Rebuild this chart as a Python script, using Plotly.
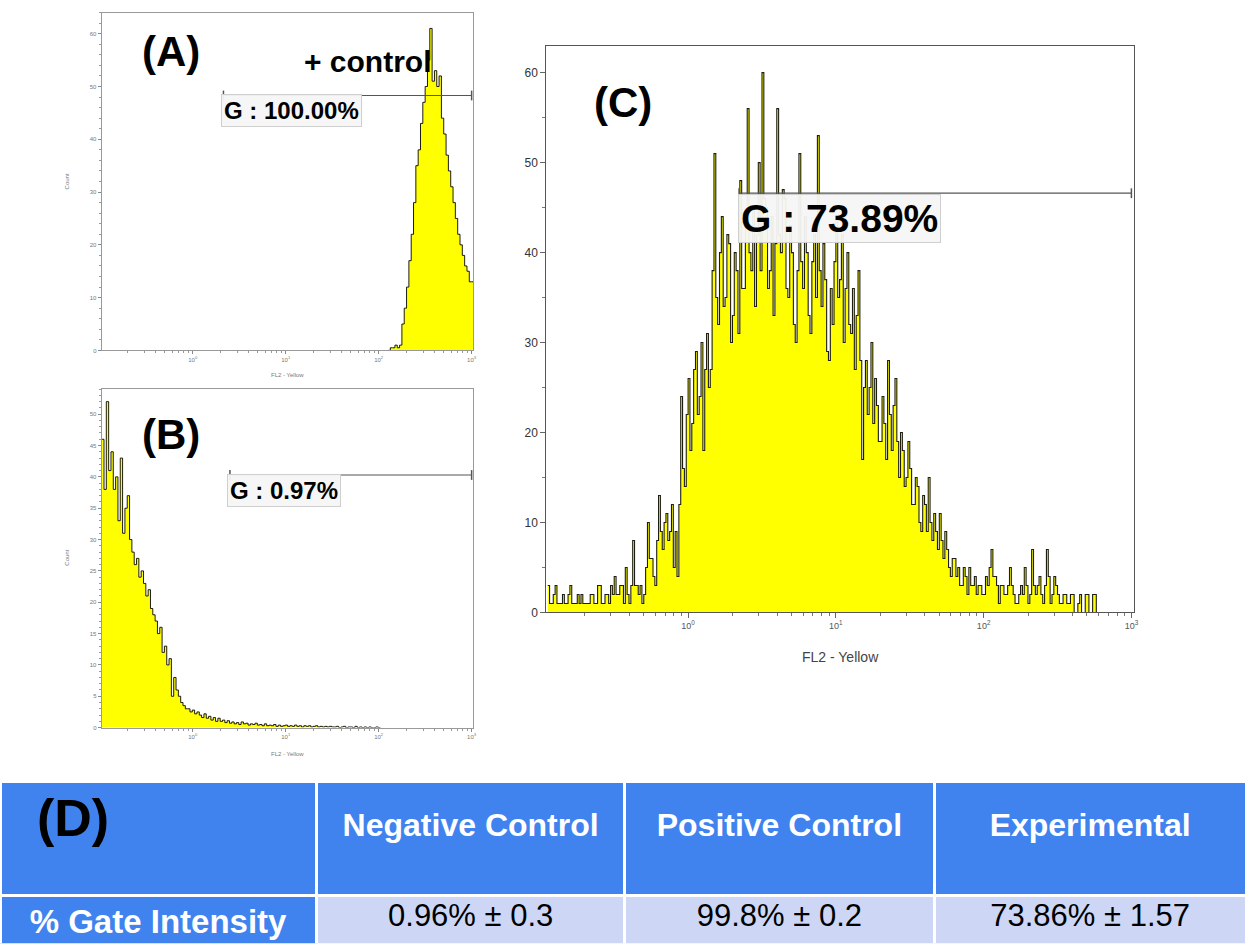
import numpy as np
import plotly.graph_objects as go

W, H = 1250, 951

# ---------------- data ----------------
# Panel A (+ control): bins in log10(FL2) starting at A_START, width A_STEP
A_START, A_STEP = 2.10, 0.025
A_COUNTS = [0, 0.5, 0.5, 1, 0.5, 1, 5, 8, 12, 17, 22, 28, 35, 38, 43, 47, 50, 55, 61,
            51, 53, 50, 52, 44, 41, 37, 34, 31, 28, 25, 22, 20, 18, 16, 15, 13, 13]

# Panel B (negative control)
B_START, B_STEP = -0.98, 0.025
B_COUNTS = [46, 38, 52, 41, 44, 38, 40, 33, 43, 31, 35, 37, 30, 28, 26, 27, 24, 25, 23, 21,
            22, 19, 18, 17, 15, 16, 12, 13, 10, 11, 5, 8, 6, 5, 4, 3.5, 3, 3, 2.5, 2.8,
            2.2, 2.5, 2, 1.6, 2.2, 1.5, 1.8, 1.2, 1.6, 1.0, 1.5, 1.0, 1.2, 0.8, 1.1, 0.7, 0.9, 0.6, 0.8, 0.5,
            0.9, 0.6, 0.7, 0.4, 0.6, 0.5, 0.7, 0.4, 0.5, 0.3, 0.6, 0.3, 0.4, 0.3, 0.5, 0.2, 0.4, 0.2, 0.3, 0.4,
            0.2, 0.3, 0.2, 0.4, 0.2, 0.3, 0.1, 0.3, 0.2, 0.3, 0.1, 0.2, 0.3, 0.1, 0.2, 0.1, 0.2, 0.1, 0.2, 0.1,
            0.1, 0.2, 0.0, 0.1, 0.2, 0.0, 0.1, 0.1, 0.0, 0.2, 0.0, 0.1, 0.0, 0.1, 0.0, 0.1, 0.0, 0.0, 0.1, 0.0]

# Panel C (experimental), finer bins
C_START, C_STEP = -0.95, 0.0125
C_COUNTS = [
    3, 1, 1, 2, 3, 1, 1, 1, 2, 1, 1, 2, 3, 1, 1, 1, 2, 1, 2, 1,
    1, 1, 1, 2, 2, 1, 1, 3, 3, 1, 1, 2, 2, 1, 3, 2, 4, 2, 2, 3,
    3, 1, 5, 2, 1, 3, 8, 3, 3, 2, 3, 1, 2, 5, 10, 6, 6, 4, 3, 8,
    13, 9, 7, 10, 11, 8, 9, 12, 5, 9, 4, 12, 24, 16, 14, 22, 26, 18, 21, 27,
    29, 22, 24, 30, 18, 27, 31, 25, 27, 38, 51, 35, 32, 40, 44, 34, 35, 42, 41, 30,
    33, 40, 38, 31, 48, 36, 36, 43, 56, 40, 38, 45, 34, 42, 50, 38, 60, 46, 45, 36,
    38, 44, 33, 41, 56, 42, 40, 47, 46, 36, 35, 43, 40, 32, 30, 38, 51, 39, 36, 44,
    40, 33, 31, 39, 42, 35, 53, 38, 34, 41, 37, 29, 28, 36, 32, 39, 44, 35, 37, 42,
    30, 36, 40, 32, 31, 36, 27, 33, 38, 28, 17, 25, 28, 22, 25, 30, 21, 26, 23, 19,
    19, 24, 21, 17, 28, 22, 18, 23, 26, 19, 15, 20, 18, 14, 15, 19, 16, 12, 12, 15,
    14, 10, 9, 13, 12, 9, 15, 10, 8, 11, 9, 7, 11, 8, 6, 9, 7, 5, 4, 6,
    6, 4, 5, 3, 3, 5, 4, 2, 5, 3, 3, 4, 2, 3, 3, 2, 2, 4, 3, 5,
    7, 4, 4, 3, 1, 3, 3, 2, 2, 3, 5, 3, 2, 1, 1, 2, 3, 2, 5, 3,
    1, 2, 7, 3, 2, 3, 4, 2, 1, 3, 7, 4, 1, 2, 4, 3, 2, 1, 1, 2,
    2, 1, 1, 2, 2, 0, 0, 1, 2, 0, 0, 2, 2, 0, 0, 2, 2, 0, 0, 0]

# gates: (start log10, level, label)
GATES = {
    "A": (0.33, 48.3, "G : 100.00%"),
    "B": (0.40, 40.3, "G : 0.97%"),
    "C": (0.345, 46.6, "G : 73.89%"),
}

TABLE_HEADER = ["(D)", "Negative Control", "Positive Control", "Experimental"]
TABLE_ROW_LABEL = ["% Gate Intensity"]
TABLE_NEG = ["0.96% ± 0.3"]
TABLE_POS = ["99.8% ± 0.2"]
TABLE_EXP = ["73.86% ± 1.57"]

X_TICKVALS = [1, 10, 100, 1000]
X_TICKTEXT = ["10<sup>0</sup>", "10<sup>1</sup>", "10<sup>2</sup>", "10<sup>3</sup>"]

BLUE = "#4083EE"
LIGHT = "#CDD7F5"
YELLOW = "#FFFF00"


def P(px, py):
    return px / W, 1 - py / H


def hist_xy(start, step, counts):
    n = len(counts)
    x = list(10 ** (start + step * np.arange(n + 1)))
    y = list(counts) + [counts[-1]]
    return x, y


fig = go.Figure()

for key, (start, step, counts), xa, ya, lw in [
    ("A", (A_START, A_STEP, A_COUNTS), "x", "y", 1.0),
    ("B", (B_START, B_STEP, B_COUNTS), "x2", "y2", 1.0),
    ("C", (C_START, C_STEP, C_COUNTS), "x3", "y3", 1.1),
]:
    x, y = hist_xy(start, step, counts)
    fig.add_trace(go.Scatter(
        x=x, y=y, xaxis=xa, yaxis=ya, mode="lines",
        line=dict(shape="hv", color="rgba(5,5,5,0.9)", width=lw),
        fill="tozeroy", fillcolor=YELLOW, hoverinfo="skip", showlegend=False))
    g0, lvl, _ = GATES[key]
    fig.add_trace(go.Scatter(
        x=[10 ** g0, 10 ** 3.0], y=[lvl, lvl], xaxis=xa, yaxis=ya, mode="lines+markers",
        line=dict(color="#555555", width=1.2),
        marker=dict(symbol="line-ns-open", size=7, line=dict(width=1.5, color="#555555")),
        hoverinfo="skip", showlegend=False, cliponaxis=False))

small_tick = dict(size=6, color="#777777", family="Arial")


def small_x(dom):
    return dict(domain=dom, type="log", range=[-0.98, 3.02], tickvals=X_TICKVALS, ticktext=X_TICKTEXT,
                ticks="outside", ticklen=3, tickcolor="#888", tickfont=small_tick,
                showline=True, linecolor="#999", linewidth=1, mirror=True, showgrid=False, zeroline=False,
                minor=dict(ticks="outside", ticklen=2, tickcolor="#999", dtick="D1", showgrid=False))


def small_y(dom, rng, dt):
    return dict(domain=dom, range=rng, dtick=dt, ticks="outside", ticklen=3, tickcolor="#888",
                tickfont=small_tick, showline=True, linecolor="#999", linewidth=1, mirror=True,
                showgrid=False, zeroline=False,
                minor=dict(ticks="outside", ticklen=2, tickcolor="#999", dtick=dt / 5, showgrid=False))


fig.update_layout(
    width=W, height=H, margin=dict(l=0, r=0, t=0, b=0),
    paper_bgcolor="white", plot_bgcolor="white",
    font=dict(family="Arial"),
    xaxis=dict(small_x([102 / W, 475 / W]), anchor="y"),
    yaxis=dict(small_y([1 - 353 / H, 1 - 12.7 / H], [0, 64], 10), anchor="x"),
    xaxis2=dict(small_x([102 / W, 475 / W]), anchor="y2"),
    yaxis2=dict(small_y([1 - 733 / H, 1 - 392 / H], [0, 54], 5), anchor="x2"),
    xaxis3=dict(domain=[548 / W, 1138 / W], type="log", range=[-0.96, 3.02], anchor="y3",
                tickvals=X_TICKVALS, ticktext=X_TICKTEXT, ticks="outside", ticklen=5, tickcolor="#666",
                tickfont=dict(size=9, color="#555"), showline=True, linecolor="#555", linewidth=1,
                mirror=True, showgrid=False, zeroline=False,
                minor=dict(ticks="outside", ticklen=3, tickcolor="#777", dtick="D1", showgrid=False)),
    yaxis3=dict(domain=[1 - 617 / H, 1 - 46 / H], range=[0, 63], dtick=10, anchor="x3",
                ticks="outside", ticklen=5, tickcolor="#666", tickfont=dict(size=12, color="#333"),
                showline=True, linecolor="#555", linewidth=1, mirror=True, showgrid=False, zeroline=False,
                minor=dict(ticks="outside", ticklen=3, tickcolor="#777", dtick=5, showgrid=False)),
)

ann = []


def add_text(px, py, text, size, color="black", bold=True, box=False, xanchor="center", angle=0):
    x, y = P(px, py)
    d = dict(x=x, y=y, xref="paper", yref="paper", xanchor=xanchor, yanchor="middle",
             text=f"<b>{text}</b>" if bold else text, showarrow=False, textangle=angle,
             font=dict(size=size, color=color, family="Arial"))
    if box:
        d.update(bgcolor="rgba(246,246,246,0.95)", bordercolor="#cfcfcf", borderwidth=1, borderpad=2)
    ann.append(d)


add_text(172, 52, "(A)", 42)
add_text(369, 62, "+ control", 30)
add_text(222, 111, GATES["A"][2], 24, box=True, xanchor="left")
add_text(172, 438, "(B)", 42)
add_text(228, 494, GATES["B"][2], 24, box=True, xanchor="left")
add_text(625, 103, "(C)", 42)
add_text(740, 220, GATES["C"][2], 39, box=True, xanchor="left")
# axis titles
add_text(67, 183, "Count", 6, color="#777", bold=False, angle=-90)
add_text(67, 562, "Count", 6, color="#777", bold=False, angle=-90)
add_text(288, 378, "FL2 - Yellow", 6, color="#777", bold=False)
add_text(288, 760, "FL2 - Yellow", 6, color="#777", bold=False)
add_text(843, 662, "FL2 - Yellow", 14, color="#444", bold=False)
fig.update_layout(annotations=ann)

hdr_sizes = [52, 32, 32, 32]
hdr_vals = []
for i, (h, s) in enumerate(zip(TABLE_HEADER, hdr_sizes)):
    lead = "\u00a0\u00a0" if i == 0 else ""
    hdr_vals.append(f"\u00a0<br><span style='font-size:{s}px'><b>{lead}{h}</b></span>")

fig.add_trace(go.Table(
    domain=dict(x=[0, 1], y=[0, 1 - 787 / H]),
    columnwidth=[316, 307, 309, 311],
    header=dict(values=hdr_vals, height=114,
                fill=dict(color=BLUE), line=dict(color="white", width=3),
                align=["left", "center", "center", "center"],
                font=dict(size=21, color=["black", "white", "white", "white"], family="Arial")),
    cells=dict(values=[["<b>" + t + "</b>" for t in TABLE_ROW_LABEL], TABLE_NEG, TABLE_POS, TABLE_EXP],
               height=50, fill=dict(color=[BLUE, LIGHT, LIGHT, LIGHT]),
               line=dict(color="white", width=3), align="center",
               font=dict(size=[33, 31, 31, 31], color=["white", "black", "black", "black"], family="Arial")),
))

fig.write_html("out.html", config={"displayModeBar": False},
               post_script="document.body.style.margin='0';")
